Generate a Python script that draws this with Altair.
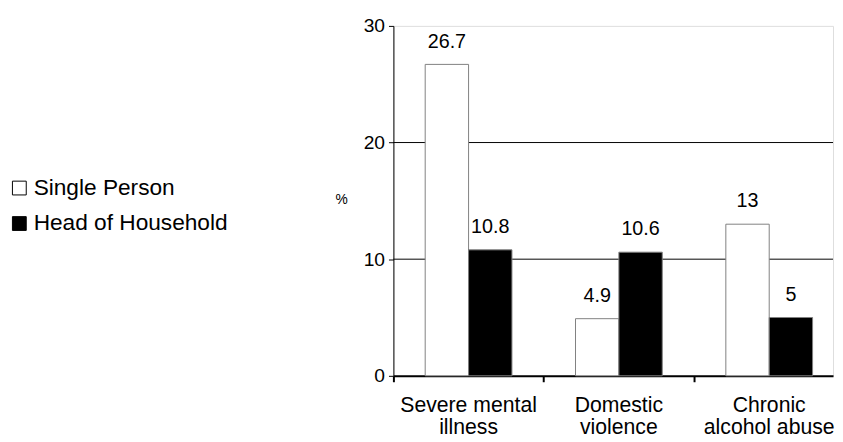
import altair as alt
import pandas as pd

categories = ["Severe mental illness", "Domestic violence", "Chronic alcohol abuse"]
category_lines = [["Severe mental", "illness"], ["Domestic", "violence"], ["Chronic", "alcohol abuse"]]
series = ["Single Person", "Head of Household"]
single_person = [26.7, 4.9, 13]
head_of_household = [10.8, 10.6, 5]
y_ticks = [0, 10, 20, 30]
gridlines = [10, 20]
colors = ["white", "black"]

rows = []
for i, c in enumerate(categories):
    rows.append({"category": c, "series": series[0], "value": single_person[i]})
    rows.append({"category": c, "series": series[1], "value": head_of_household[i]})
df = pd.DataFrame(rows)
grid_df = pd.DataFrame({"g": gridlines})

# layout (pixels)
W = 446
H = 355
STEP = 152.5
GROUP = 88.0
P_IN = 1 - GROUP / STEP
n = len(categories)
P_OUT = (W / STEP - n + P_IN) / 2
left_off = P_IN * STEP / 2
ALIGN = left_off / (W - STEP * (n - P_IN))
# tick at the boundary between steps, expressed as fraction of the bandwidth
tick_band_pos = -(P_IN / 2) / (1 - P_IN)

label_expr = " : ".join(
    f"datum.label == '{c}' ? {lines!r}" for c, lines in zip(categories, category_lines)
) + " : datum.label"

x_enc = alt.X(
    "category:N",
    sort=categories,
    scale=alt.Scale(paddingInner=P_IN, paddingOuter=P_OUT, align=ALIGN),
    axis=alt.Axis(
        title=None, labelAngle=0, bandPosition=tick_band_pos,
        labelExpr=label_expr, labelFontSize=21.5, labelFont="Liberation Sans",
        labelColor="black", labelPadding=13, labelLineHeight=23,
        tickSize=6, tickWidth=2, tickColor="black",
        domainColor="black", domainWidth=2, grid=False, labelBaseline="top",
    ),
)
y_scale = alt.Scale(domain=[0, 30], nice=False)

grid = alt.Chart(grid_df).mark_rule(color="black", strokeWidth=1).encode(
    y=alt.Y("g:Q", scale=y_scale)
)

bars = alt.Chart(df).mark_bar(stroke="#808080", strokeWidth=1).encode(
    x=x_enc,
    xOffset=alt.XOffset("series:N", sort=series),
    y=alt.Y(
        "value:Q", scale=y_scale,
        axis=alt.Axis(
            values=y_ticks, grid=False, title="%", titleAngle=0, titleX=-53, titleY=176,
            titleAlign="center", titleBaseline="middle", titleFontSize=14,
            titleFontWeight="normal", titleFont="Liberation Sans", titleColor="black",
            labelFontSize=19.5, labelFont="Liberation Sans", labelColor="black",
            tickSize=5, tickColor="black", domainColor="black", labelPadding=4,
        ),
    ),
    fill=alt.Fill(
        "series:N", sort=series,
        scale=alt.Scale(domain=series, range=colors),
        legend=alt.Legend(
            title=None, orient="none", legendX=-391, legendY=153,
            symbolType="square", symbolSize=196, symbolStrokeColor="black",
            symbolStrokeWidth=1, labelFontSize=23, labelFont="Liberation Sans",
            labelColor="black", rowPadding=12, labelOffset=3, labelLimit=400,
        ),
    ),
)

labels = alt.Chart(df).mark_text(
    baseline="bottom", dy=-13, fontSize=20, font="Liberation Sans", color="black"
).encode(
    x=x_enc,
    xOffset=alt.XOffset("series:N", sort=series),
    y=alt.Y("value:Q", scale=y_scale),
    text=alt.Text("value:Q"),
)

chart = alt.layer(grid, bars, labels).properties(
    width=W, height=H, padding={"left": 0, "top": 5, "right": 0, "bottom": 2}
).configure_view(stroke=None).configure(background="white")

chart.save("out.html", embed_options={"renderer": "svg", "actions": False})
